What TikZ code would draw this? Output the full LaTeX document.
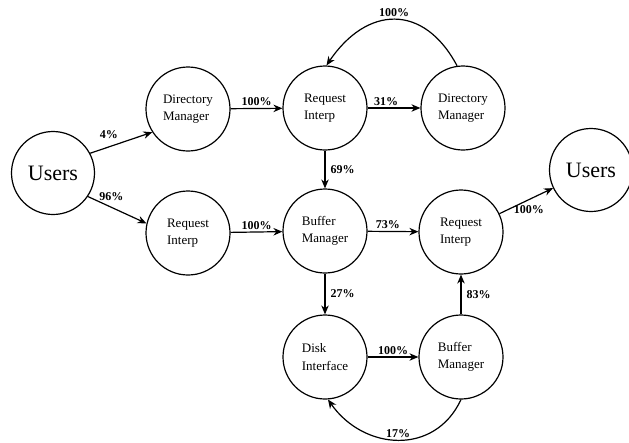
\documentclass[tikz,border=0pt]{standalone}
\usepackage{fontspec}
\setmainfont{Liberation Serif}
\usetikzlibrary{arrows.meta}

\begin{document}
\begin{tikzpicture}[x=1pt,y=-1pt,
    proc/.style={draw, circle, line width=1.2pt, minimum size=84pt, inner sep=0pt,
        align=left, font=\fontsize{13}{17.5}\selectfont},
    userbox/.style={proc, minimum size=83pt, font=\fontsize{22}{26}\selectfont},
    flow/.style={-{Stealth[length=9pt,width=7.5pt]}, line width=1.2pt},
    pct/.style={font=\fontsize{12}{14}\selectfont\bfseries, inner sep=2pt}]
    \useasboundingbox (0,0) rectangle (629,442);

    \node[userbox] (usersin) at (53,173) {Users};
    \node[userbox] (usersout) at (591,170) {Users};

    \node[proc] (dirmgr) at (188,109) {Directory\\Manager};
    \node[proc] (reqtop) at (325,108) {Request\\Interp};
    \node[proc] (dirmgrtwo) at (463,108) {Directory\\Manager};

    \node[proc] (reqin) at (188,233) {Request\\Interp};
    \node[proc] (bufmgr) at (325,231) {Buffer\\Manager};
    \node[proc] (reqout) at (461,232) {Request\\Interp};

    \node[proc] (disk) at (325,357) {Disk\\Interface};
    \node[proc] (bufmgrtwo) at (461,357) {Buffer\\Manager};

    % from the users
    \draw[flow] (usersin.28) -- (dirmgr.213) node[pct, pos=0.3, above=6pt] {4\%};
    \draw[flow] (usersin.-34) -- (reqin.167) node[pct, pos=0.4, above=4pt] {96\%};

    % top row
    \draw[flow] (dirmgr) -- (reqtop) node[pct, midway, above] {100\%};
    \draw[flow] (reqtop) -- (dirmgrtwo) node[pct, pos=0.35, above] {31\%};
    \draw[flow] (dirmgrtwo.98) to[out=118, in=56, looseness=1.4]
        node[pct, midway, above] {100\%} (reqtop.88);

    % middle row
    \draw[flow] (reqtop) -- (bufmgr) node[pct, midway, right=3pt] {69\%};
    \draw[flow] (reqin) -- (bufmgr) node[pct, midway, above] {100\%};
    \draw[flow] (bufmgr) -- (reqout) node[pct, pos=0.4, above] {73\%};
    \draw[flow] (reqout) -- (usersout) node[pct, pos=0.55, below=3pt] {100\%};

    % disk loop
    \draw[flow] (bufmgr) -- (disk) node[pct, midway, right=3pt] {27\%};
    \draw[flow] (disk) -- (bufmgrtwo) node[pct, midway, above] {100\%};
    \draw[flow] (bufmgrtwo) -- (reqout) node[pct, midway, right=3pt] {83\%};
    \draw[flow] (bufmgrtwo.-90) to[out=-115, in=-55, looseness=1.2]
        node[pct, midway, above] {17\%} (disk.-86);
\end{tikzpicture}
\end{document}
